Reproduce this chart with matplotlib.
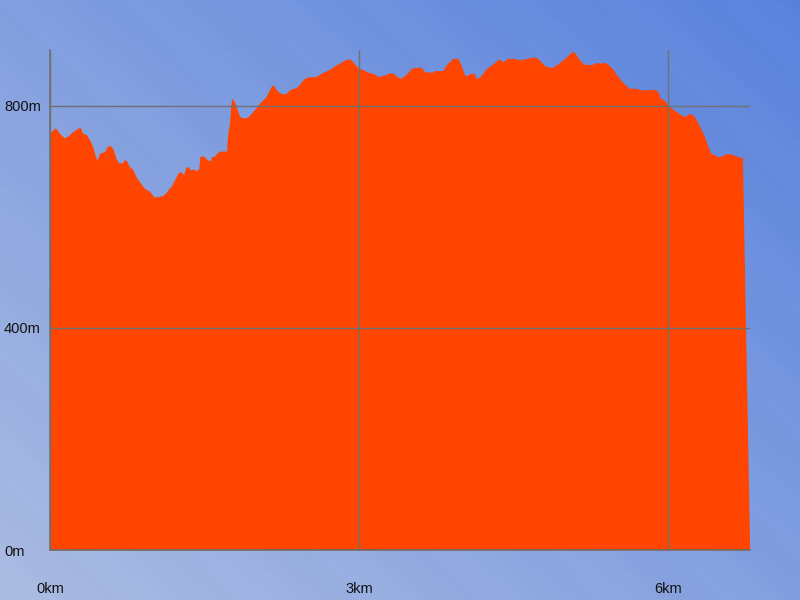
import numpy as np
import matplotlib
matplotlib.use("Agg")
import matplotlib.pyplot as plt

plt.rcParams["font.family"] = ["Liberation Sans", "DejaVu Sans"]

# Distance along route (km) and elevation (m)
distance_km = [0.000, 0.043, 0.058, 0.091, 0.140, 0.172, 0.220, 0.269, 0.291, 0.317,
               0.350, 0.383, 0.415, 0.437, 0.456, 0.480, 0.495, 0.528, 0.553, 0.577,
               0.609, 0.641, 0.664, 0.706, 0.722, 0.745, 0.771, 0.803, 0.835, 0.868,
               0.917, 0.965, 1.007, 1.046, 1.094, 1.126, 1.159, 1.175, 1.208, 1.240,
               1.266, 1.298, 1.320, 1.344, 1.363, 1.385, 1.417, 1.444, 1.456, 1.492,
               1.524, 1.553, 1.570, 1.596, 1.628, 1.654, 1.713, 1.725, 1.742, 1.757,
               1.767, 1.790, 1.813, 1.839, 1.871, 1.903, 1.936, 1.968, 2.000, 2.033,
               2.065, 2.097, 2.130, 2.155, 2.179, 2.211, 2.259, 2.291, 2.340, 2.388,
               2.421, 2.463, 2.509, 2.583, 2.631, 2.680, 2.728, 2.777, 2.825, 2.874,
               2.907, 2.939, 2.971, 2.994, 3.036, 3.084, 3.133, 3.182, 3.214, 3.262,
               3.295, 3.337, 3.369, 3.402, 3.441, 3.489, 3.505, 3.570, 3.602, 3.635,
               3.716, 3.732, 3.813, 3.845, 3.878, 3.910, 3.958, 3.985, 4.007, 4.029,
               4.055, 4.088, 4.120, 4.136, 4.169, 4.201, 4.233, 4.282, 4.320, 4.353,
               4.395, 4.444, 4.509, 4.557, 4.606, 4.654, 4.670, 4.718, 4.751, 4.800,
               4.849, 4.881, 4.929, 4.978, 5.026, 5.075, 5.107, 5.140, 5.188, 5.269,
               5.301, 5.350, 5.388, 5.431, 5.463, 5.495, 5.528, 5.560, 5.592, 5.625,
               5.706, 5.722, 5.871, 5.903, 5.926, 5.968, 6.000, 6.033, 6.082, 6.130,
               6.162, 6.194, 6.227, 6.259, 6.291, 6.324, 6.356, 6.388, 6.412, 6.454,
               6.485, 6.518, 6.560, 6.615, 6.664, 6.696, 6.722, 6.793]
elevation_m = [751, 759, 759, 750, 742, 745, 753, 759, 761, 750,
               748, 739, 726, 711, 701, 714, 715, 717, 725, 729,
               723, 705, 697, 697, 703, 700, 690, 685, 672, 663,
               651, 646, 636, 636, 638, 643, 652, 654, 666, 678,
               681, 676, 690, 689, 684, 686, 683, 686, 709, 709,
               703, 700, 708, 709, 716, 718, 718, 750, 766, 804,
               813, 807, 795, 781, 778, 778, 782, 789, 796, 804,
               810, 816, 828, 837, 834, 825, 821, 822, 830, 832,
               838, 848, 852, 852, 858, 862, 867, 873, 878, 883,
               884, 879, 872, 867, 865, 860, 858, 853, 853, 856,
               859, 858, 852, 849, 854, 862, 867, 869, 869, 861,
               860, 863, 863, 873, 879, 885, 885, 876, 864, 854,
               855, 858, 858, 849, 851, 858, 866, 873, 878, 884,
               879, 885, 885, 882, 884, 886, 887, 887, 882, 872,
               869, 869, 875, 882, 890, 898, 892, 882, 874, 874,
               878, 876, 878, 872, 866, 856, 849, 842, 836, 831,
               831, 828, 829, 825, 813, 809, 801, 795, 789, 783,
               780, 785, 785, 779, 769, 756, 743, 726, 715, 711,
               708, 709, 713, 713, 709, 707, 707, 0]

x_ticks = [0, 3, 6]
x_labels = ["0km", "3km", "6km"]
y_ticks = [0, 400, 800]
y_labels = ["0m", "400m", "800m"]

fig = plt.figure(figsize=(8, 6), dpi=100)

# background gradient with faint diagonal stripes
bg = fig.add_axes([0, 0, 1, 1], zorder=-1)
H, W = 600, 800
yy, xx = np.mgrid[0:H, 0:W]
t = (xx / W + (yy[::-1] / H)) / 2.0  # 0 bottom-left, 1 top-right
light = np.array([170, 187, 225]) / 255.0
dark = np.array([88, 129, 220]) / 255.0
img = light[None, None, :] * (1 - t[..., None]) + dark[None, None, :] * t[..., None]
phase = ((xx - yy) % 120) / 120.0
stripe = 0.008 * (phase < 0.5)
img = np.clip(img + stripe[..., None], 0, 1)
bg.imshow(img, aspect="auto", extent=[0, 1, 0, 1], origin="upper")
bg.set_axis_off()

ax = fig.add_axes([50 / 800, 50 / 600, 700 / 800, 500 / 600])
ax.set_facecolor("none")
ax.fill_between(distance_km, elevation_m, 0, color="#FF4500", linewidth=0, zorder=1)
ax.set_xlim(0, 6.796)
ax.set_ylim(0, 900)

grid_col = "#707070"
ax.set_xticks(x_ticks)
ax.set_xticklabels(x_labels)
ax.set_yticks(y_ticks)
ax.set_yticklabels(y_labels, ha="left")
ax.tick_params(axis="y", length=0, pad=33.1, labelsize=10.5, labelcolor="#111111")
ax.tick_params(axis="x", length=0, pad=23.0, labelsize=10.5, labelcolor="#111111")
ax.grid(True, color=grid_col, linewidth=1.0, zorder=3)
ax.set_axisbelow(False)
for s in ["top", "right"]:
    ax.spines[s].set_visible(False)
for s in ["left", "bottom"]:
    ax.spines[s].set_color(grid_col)
    ax.spines[s].set_linewidth(1.2)

fig.savefig("out.png", dpi=100)
